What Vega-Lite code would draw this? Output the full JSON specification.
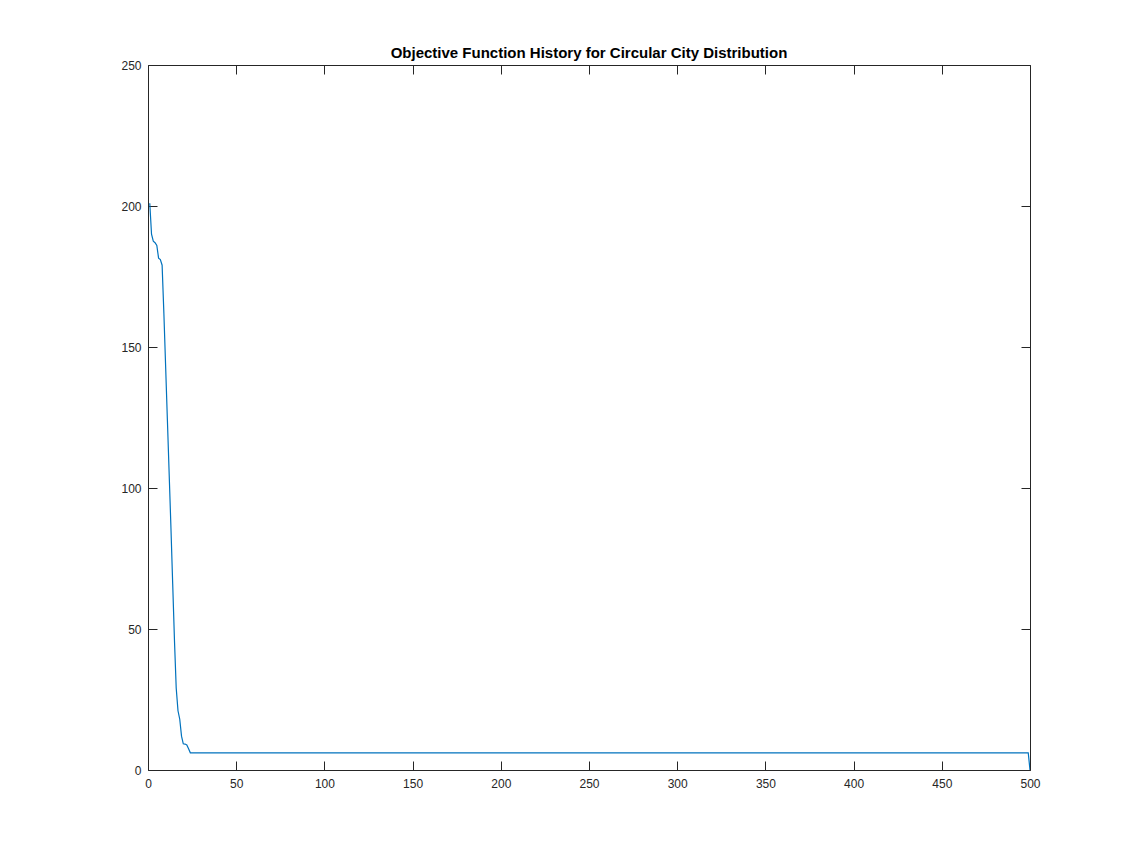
{
  "$schema": "https://vega.github.io/schema/vega-lite/v6.json",
  "autosize": "none",
  "width": 882,
  "height": 705,
  "padding": {"left": 148, "top": 65, "right": 108, "bottom": 96},
  "background": "white",
  "config": {
    "view": {"stroke": null},
    "font": "Liberation Sans",
    "axis": {
      "grid": false,
      "domainColor": "#262626",
      "tickColor": "#262626",
      "labelColor": "#262626",
      "labelFont": "Liberation Sans",
      "labelFontSize": 12,
      "labelFlush": false,
      "labelOverlap": false,
      "tickSize": -9,
      "domainWidth": 1,
      "tickWidth": 1,
      "title": null
    }
  },
  "title": {
    "text": "Objective Function History for Circular City Distribution",
    "font": "Liberation Sans",
    "fontSize": 15,
    "fontWeight": "bold",
    "color": "#000000",
    "anchor": "middle",
    "offset": -2
  },
  "data": {
    "values": [
      {"iteration": 1, "value": 201},
      {"iteration": 2, "value": 190},
      {"iteration": 3, "value": 187.5},
      {"iteration": 4, "value": 187},
      {"iteration": 5, "value": 186},
      {"iteration": 6, "value": 181.5},
      {"iteration": 7, "value": 181},
      {"iteration": 8, "value": 179},
      {"iteration": 9, "value": 162},
      {"iteration": 10, "value": 143},
      {"iteration": 11, "value": 124},
      {"iteration": 12, "value": 105},
      {"iteration": 13, "value": 86},
      {"iteration": 14, "value": 66},
      {"iteration": 15, "value": 46},
      {"iteration": 16, "value": 29},
      {"iteration": 17, "value": 21},
      {"iteration": 18, "value": 18},
      {"iteration": 19, "value": 12},
      {"iteration": 20, "value": 9.3},
      {"iteration": 21, "value": 9.2},
      {"iteration": 22, "value": 8.9},
      {"iteration": 23, "value": 7.5},
      {"iteration": 24, "value": 6.1},
      {"iteration": 100, "value": 6.1},
      {"iteration": 200, "value": 6.1},
      {"iteration": 300, "value": 6.1},
      {"iteration": 400, "value": 6.1},
      {"iteration": 499, "value": 6.1},
      {"iteration": 500, "value": 0}
    ]
  },
  "layer": [
    {
      "mark": {"type": "line", "color": "#0072BD", "strokeWidth": 1.2, "clip": true},
      "encoding": {
        "x": {
          "field": "iteration", "type": "quantitative",
          "scale": {"domain": [0, 500], "nice": false, "zero": false},
          "axis": {"orient": "bottom", "values": [0, 50, 100, 150, 200, 250, 300, 350, 400, 450, 500], "labelPadding": 17}
        },
        "y": {
          "field": "value", "type": "quantitative",
          "scale": {"domain": [0, 250], "nice": false, "zero": false},
          "axis": {"orient": "left", "values": [0, 50, 100, 150, 200, 250], "labelPadding": 16}
        }
      }
    },
    {
      "mark": {"type": "line", "opacity": 0},
      "encoding": {
        "x": {
          "field": "iteration", "type": "quantitative",
          "scale": {"domain": [0, 500], "nice": false, "zero": false},
          "axis": {"orient": "top", "labels": false, "values": [0, 50, 100, 150, 200, 250, 300, 350, 400, 450, 500]}
        },
        "y": {
          "field": "value", "type": "quantitative",
          "scale": {"domain": [0, 250], "nice": false, "zero": false},
          "axis": {"orient": "right", "labels": false, "values": [0, 50, 100, 150, 200, 250]}
        }
      }
    }
  ],
  "resolve": {"scale": {"x": "independent", "y": "independent"}, "axis": {"x": "independent", "y": "independent"}}
}
